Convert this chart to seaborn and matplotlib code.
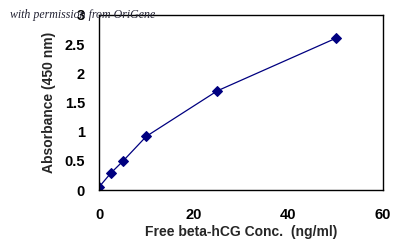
import matplotlib
matplotlib.use("Agg")
import matplotlib.pyplot as plt
import seaborn as sns
import pandas as pd

conc = [0, 2.5, 5, 10, 25, 50]
absorbance = [0.05, 0.29, 0.49, 0.92, 1.70, 2.60]
xticks = [0, 20, 40, 60]
yticks = [0, 0.5, 1, 1.5, 2, 2.5, 3]
ytick_labels = ["0", "0.5", "1", "1.5", "2", "2.5", "3"]

sns.set_style("white")
plt.rcParams['font.family'] = ['Liberation Sans', 'DejaVu Sans']

fig = plt.figure(figsize=(4.2, 2.47), dpi=100)
ax = fig.add_axes([99/420, 1-190/247, (383-99)/420, (190-15)/247])

df = pd.DataFrame({"conc": conc, "abs": absorbance})
sns.lineplot(data=df, x="conc", y="abs", ax=ax, color="#000080", linewidth=0.9,
             marker="D", markersize=5.5, markeredgecolor="#000080",
             markerfacecolor="#000080")

ax.set_xlim(0, 60)
ax.set_ylim(0, 3)
ax.set_xticks(xticks)
ax.set_xticklabels([str(t) for t in xticks])
ax.set_yticks(yticks)
ax.set_yticklabels(ytick_labels)
for s in ax.spines.values():
    s.set_color("black")
    s.set_linewidth(1.0)
ax.tick_params(axis="both", direction="inout", length=8, width=1, colors="black",
               labelsize=10.5)
ax.tick_params(axis="x", pad=9)
ax.tick_params(axis="y", pad=6)
for lab in ax.get_xticklabels() + ax.get_yticklabels():
    lab.set_fontweight("bold")
ax.set_xlabel("Free beta-hCG Conc.  (ng/ml)", fontsize=10, fontweight="bold", labelpad=2)
ax.set_ylabel("Absorbance (450 nm)", fontsize=10, fontweight="bold", labelpad=6)

fig.text(10/420, 1-15/247, "with permission from OriGene", family=["Liberation Serif", "DejaVu Serif"],
         style="italic", fontsize=8.6, color="#222233", va="center", ha="left")

fig.savefig("out.png", dpi=100, facecolor="white")
